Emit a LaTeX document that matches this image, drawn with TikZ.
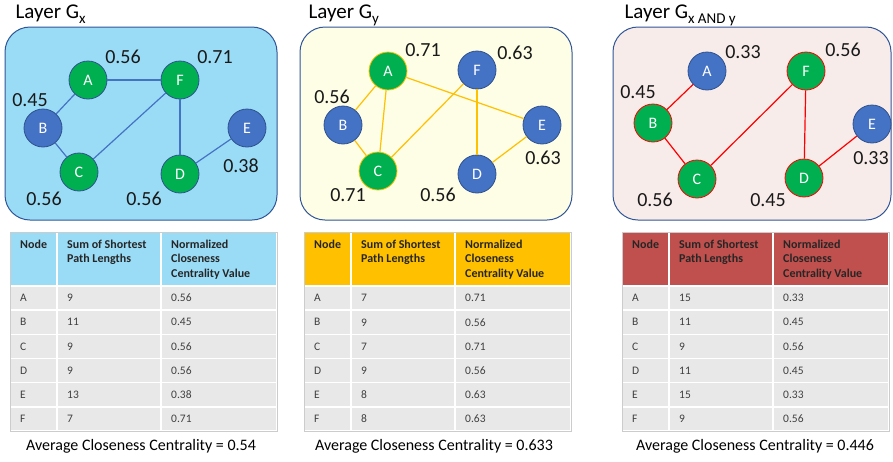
\documentclass[tikz,border=0pt]{standalone}
\usepackage{fontspec}
\setmainfont{Carlito}
\usetikzlibrary{positioning}

\definecolor{panelx}{HTML}{9ADCF6}
\definecolor{panely}{HTML}{FEFDE5}
\definecolor{panelz}{HTML}{F8ECEB}
\definecolor{panelline}{HTML}{2F5597}
\definecolor{grnfill}{HTML}{00B050}
\definecolor{blufill}{HTML}{4472C4}
\definecolor{ringblue}{HTML}{2F528F}
\definecolor{gold}{HTML}{FFC000}
\definecolor{hdrred}{HTML}{C0504D}
\definecolor{cellgrey}{HTML}{E8E8E8}

\begin{document}
\begin{tikzpicture}[x=1pt, y=-1pt,
    vtx/.style={circle, minimum size=38pt, inner sep=0pt, line width=0.8pt,
                text=white, font=\fontsize{16}{16}\selectfont},
    grn/.style={vtx, fill=grnfill, draw=#1}, grn/.default=ringblue,
    blu/.style={vtx, fill=blufill, draw=ringblue},
    val/.style={font=\fontsize{20}{20}\selectfont, text=black!90},
    layer/.style={rounded corners=25pt, draw=panelline, line width=1pt},
    ttl/.style={anchor=base west, font=\fontsize{21}{21}\selectfont},
    tcell/.style={fill=cellgrey, draw=white, line width=1.5pt},
    hdr/.style={anchor=north west, align=left, inner sep=0pt, text=black!85,
                font=\fontsize{12}{14.3}\selectfont\bfseries},
    cell/.style={anchor=west, inner sep=0pt, text=black!75,
                 font=\fontsize{11.5}{12}\selectfont},
    avg/.style={font=\fontsize{16}{16}\selectfont}]
    \useasboundingbox (0,0) rectangle (893,461);

    % layer panels
    \draw[layer, fill=panelx] (5,27) rectangle (277,220);
    \draw[layer, fill=panely] (300,27) rectangle (572,220);
    \draw[layer, fill=panelz] (613,27) rectangle (891,220);
    \node[ttl] (tx) at (12,18) {Layer G\raisebox{-5pt}{\fontsize{15}{15}\selectfont x}};
    \node[ttl] (ty) at (305,18) {Layer G\raisebox{-5pt}{\fontsize{15}{15}\selectfont y}};
    \node[ttl] (tz) at (621,18) {Layer G\raisebox{-5pt}{\fontsize{15}{15}\selectfont x AND y}};

    % layer G_x
    \node[grn] (xA) at (88,80) {A};
    \node[grn] (xF) at (180,80) {F};
    \node[blu] (xB) at (43,128) {B};
    \node[blu] (xE) at (247,128) {E};
    \node[grn] (xC) at (79,172) {C};
    \node[grn] (xD) at (180,174) {D};
    \foreach \a/\b in {A/F, A/B, B/C, C/F, F/D, D/E}
        \draw[blufill, line width=1.2pt] (x\a) -- (x\b);
    \node[val] (xvA) at (123,57) {0.56};
    \node[val] (xvF) at (215,57) {0.71};
    \node[val] (xvB) at (30,100) {0.45};
    \node[val] (xvE) at (241,166) {0.38};
    \node[val] (xvC) at (44,199) {0.56};
    \node[val] (xvD) at (144,199) {0.56};

    % layer G_y
    \node[grn=gold] (yA) at (388,71) {A};
    \node[blu] (yF) at (477,70) {F};
    \node[blu] (yB) at (343,125) {B};
    \node[blu] (yE) at (542,125) {E};
    \node[grn=gold] (yC) at (378,171) {C};
    \node[blu] (yD) at (477,174) {D};
    \foreach \a/\b in {A/B, A/C, A/E, B/C, C/F, F/D, D/E}
        \draw[gold, line width=1.2pt] (y\a) -- (y\b);
    \node[val] (yvA) at (423,50) {0.71};
    \node[val] (yvF) at (515,53) {0.63};
    \node[val] (yvB) at (332,97) {0.56};
    \node[val] (yvE) at (543,158) {0.63};
    \node[val] (yvC) at (348,195) {0.71};
    \node[val] (yvD) at (438,195) {0.56};

    % layer G_x AND y
    \node[blu] (zA) at (707,71) {A};
    \node[grn=red] (zF) at (806,71) {F};
    \node[grn=red] (zB) at (653,123) {B};
    \node[blu] (zE) at (872,124) {E};
    \node[grn=red] (zC) at (697,179) {C};
    \node[grn=red] (zD) at (804,178) {D};
    \foreach \a/\b in {A/B, B/C, C/F, F/D, D/E}
        \draw[red, line width=1.2pt] (z\a) -- (z\b);
    \node[val] (zvA) at (743,52) {0.33};
    \node[val] (zvF) at (843,50) {0.56};
    \node[val] (zvB) at (638,92) {0.45};
    \node[val] (zvE) at (871,158) {0.33};
    \node[val] (zvC) at (655,200) {0.56};
    \node[val] (zvD) at (768,200) {0.45};

    % table headers
    \foreach \ox/\hc in {10/panelx, 304/gold, 622/hdrred} {
        \draw[tcell, fill=\hc] (\ox,232) rectangle ++(47,54);
        \draw[tcell, fill=\hc] (\ox+47,232) rectangle ++(104,54);
        \draw[tcell, fill=\hc] (\ox+151,232) rectangle ++(116,54);
        \node[hdr] (hn\ox) at (\ox+10,240) {Node};
        \node[hdr] (hs\ox) at (\ox+57,240) {Sum of Shortest\\Path Lengths};
        \node[hdr] (hv\ox) at (\ox+161,240) {Normalized\\Closeness\\Centrality Value};
    }

    % table of G_x
    \foreach \n/\s/\v [count=\i] in {A/9/0.56, B/11/0.45, C/9/0.56, D/9/0.56, E/13/0.38, F/7/0.71} {
        \pgfmathsetmacro{\ry}{286+(\i-1)*24.17}
        \draw[tcell] (10,\ry) rectangle ++(47,24.17);
        \draw[tcell] (57,\ry) rectangle ++(104,24.17);
        \draw[tcell] (161,\ry) rectangle ++(116,24.17);
        \node[cell] (xn\i) at (20,\ry+12.1) {\n};
        \node[cell] (xs\i) at (67,\ry+12.1) {\s};
        \node[cell] (xc\i) at (171,\ry+12.1) {\v};
    }
    % table of G_y
    \foreach \n/\s/\v [count=\i] in {A/7/0.71, B/9/0.56, C/7/0.71, D/9/0.56, E/8/0.63, F/8/0.63} {
        \pgfmathsetmacro{\ry}{286+(\i-1)*24.17}
        \draw[tcell] (304,\ry) rectangle ++(47,24.17);
        \draw[tcell] (351,\ry) rectangle ++(104,24.17);
        \draw[tcell] (455,\ry) rectangle ++(116,24.17);
        \node[cell] (yn\i) at (314,\ry+12.1) {\n};
        \node[cell] (ys\i) at (361,\ry+12.1) {\s};
        \node[cell] (yc\i) at (465,\ry+12.1) {\v};
    }
    % table of G_x AND y
    \foreach \n/\s/\v [count=\i] in {A/15/0.33, B/11/0.45, C/9/0.56, D/11/0.45, E/15/0.33, F/9/0.56} {
        \pgfmathsetmacro{\ry}{286+(\i-1)*24.17}
        \draw[tcell] (622,\ry) rectangle ++(47,24.17);
        \draw[tcell] (669,\ry) rectangle ++(104,24.17);
        \draw[tcell] (773,\ry) rectangle ++(116,24.17);
        \node[cell] (zn\i) at (632,\ry+12.1) {\n};
        \node[cell] (zs\i) at (679,\ry+12.1) {\s};
        \node[cell] (zc\i) at (783,\ry+12.1) {\v};
    }
    \foreach \ox in {10, 304, 622}
        \draw[black!20, line width=0.5pt] (\ox,232) rectangle ++(267,199);

    % averages
    \node[avg] (xavg) at (141,446) {Average Closeness Centrality = 0.54};
    \node[avg] (yavg) at (434,446) {Average Closeness Centrality = 0.633};
    \node[avg] (zavg) at (755,446) {Average Closeness Centrality = 0.446};
\end{tikzpicture}
\end{document}
